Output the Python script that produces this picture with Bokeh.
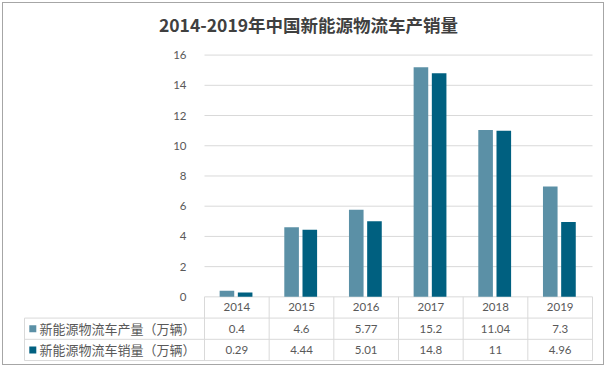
from bokeh.plotting import figure
from bokeh.models import Range1d, FixedTicker, ColumnDataSource, LinearAxis
from bokeh.core.properties import value
from bokeh.embed import file_html
from bokeh.resources import INLINE

# ---- data ----
title_text = "2014-2019年中国新能源物流车产销量"
years = ["2014", "2015", "2016", "2017", "2018", "2019"]
production = [0.4, 4.6, 5.77, 15.2, 11.04, 7.3]
sales = [0.29, 4.44, 5.01, 14.8, 11, 4.96]
series_names = ["新能源物流车产量（万辆）", "新能源物流车销量（万辆）"]
y_ticks = [0, 2, 4, 6, 8, 10, 12, 14, 16]

# ---- style ----
C1 = "#5B90A6"
C2 = "#006080"
GRID = "#D9D9D9"
TXT = "#595959"
NUM_FONT = "Lato"
CJK_FONT = "Noto Sans CJK SC"

O = 3                              # page offset of the canvas (margin 2 + border 1)
W, H = 602, 363
FRAME_L, FRAME_R = 23 - O, 593 - O  # canvas px of frame edges
X0_PX, X6_PX = 204 - O, 592 - O     # canvas px of category range 0..6
CAT_PX = (X6_PX - X0_PX) / 6.0
Y_PX = 15.25                       # px per value unit
ZERO_Y = 295.7 - O                 # canvas y of value 0
TOP_Y = 40 - O                     # frame top (canvas)
ROW = ((360 - 295.7) / 3.0) / Y_PX  # table row height in value units
TBL_L = 24 - O                     # canvas px of table left edge

x_start = -(X0_PX - FRAME_L) / CAT_PX
x_end = 6 + (FRAME_R - X6_PX) / CAT_PX
y_start = -(H - ZERO_Y) / Y_PX
y_end = (ZERO_Y - TOP_Y) / Y_PX

p = figure(width=W, height=H,
           x_range=Range1d(x_start, x_end), y_range=Range1d(y_start, y_end),
           x_axis_location=None, y_axis_location=None,
           output_backend="svg", toolbar_location=None,
           min_border_left=FRAME_L, min_border_right=W - FRAME_R,
           min_border_top=TOP_Y, min_border_bottom=0,
           title=title_text,
           styles={"border": "1px solid #A6A6A6", "margin": "2px"})
p.title.align = "center"
p.title.offset = -4
p.title.text_font = CJK_FONT
p.title.text_font_size = "17.5px"
p.title.text_font_style = "bold"
p.title.text_color = "#404040"
p.title.standoff = 13
p.outline_line_color = None
p.grid.visible = False

n = len(years)
# value gridlines (only over the plotting columns)
p.segment(x0=[0] * len(y_ticks), y0=y_ticks, x1=[n] * len(y_ticks), y1=y_ticks,
          line_color=GRID, line_width=1)

# y axis drawn at x = 0
yax = LinearAxis(fixed_location=0, ticker=FixedTicker(ticks=y_ticks))
yax.axis_line_color = None
yax.major_tick_line_color = None
yax.minor_tick_line_color = None
yax.major_label_standoff = 12
yax.major_label_text_font = NUM_FONT
yax.major_label_text_font_size = "11.5px"
yax.major_label_text_color = TXT
p.add_layout(yax, "left")

# bars
centers = [i + 0.5 for i in range(n)]
off1, off2, bw = -9.9 / CAT_PX, 8.3 / CAT_PX, 14.6 / CAT_PX
src = ColumnDataSource(dict(x1=[c + off1 for c in centers], x2=[c + off2 for c in centers],
                            prod=production, sales=sales))
p.vbar(x="x1", top="prod", width=bw, source=src, fill_color=C1, line_color=None)
p.vbar(x="x2", top="sales", width=bw, source=src, fill_color=C2, line_color=None)

# ---- data table ----
xl = -(X0_PX - TBL_L) / CAT_PX
row_lines = [-ROW, -2 * ROW, -3 * ROW]
p.segment(x0=[xl] * 3, y0=row_lines, x1=[n] * 3, y1=row_lines, line_color=GRID, line_width=1)
p.segment(x0=list(range(n + 1)), y0=[-3 * ROW] * (n + 1), x1=list(range(n + 1)), y1=[0] * (n + 1),
          line_color=GRID, line_width=1)
p.segment(x0=[xl], y0=[-3 * ROW], x1=[xl], y1=[-ROW], line_color=GRID, line_width=1)

fmt = lambda v: f"{v:g}"
row_y = [-0.5 * ROW, -1.5 * ROW, -2.5 * ROW]
p.text(x=centers, y=[row_y[0]] * n, text=years, text_align="center", text_baseline="middle",
       text_font=value(NUM_FONT), text_font_size="11.5px", text_color=TXT)
p.text(x=centers, y=[row_y[1]] * n, text=[fmt(v) for v in production], text_align="center",
       text_baseline="middle", text_font=value(NUM_FONT), text_font_size="11.5px", text_color=TXT)
p.text(x=centers, y=[row_y[2]] * n, text=[fmt(v) for v in sales], text_align="center",
       text_baseline="middle", text_font=value(NUM_FONT), text_font_size="11.5px", text_color=TXT)

kx = xl + 8.3 / CAT_PX
lx = xl + 15 / CAT_PX
p.scatter(x=[kx, kx], y=row_y[1:], marker="square", size=7, fill_color=[C1, C2], line_color=None)
p.text(x=[lx, lx], y=row_y[1:], text=series_names, text_align="left", text_baseline="middle",
       text_font=value(CJK_FONT), text_font_size="13px", text_color=TXT)

open("out.html", "w").write(file_html(p, INLINE))
